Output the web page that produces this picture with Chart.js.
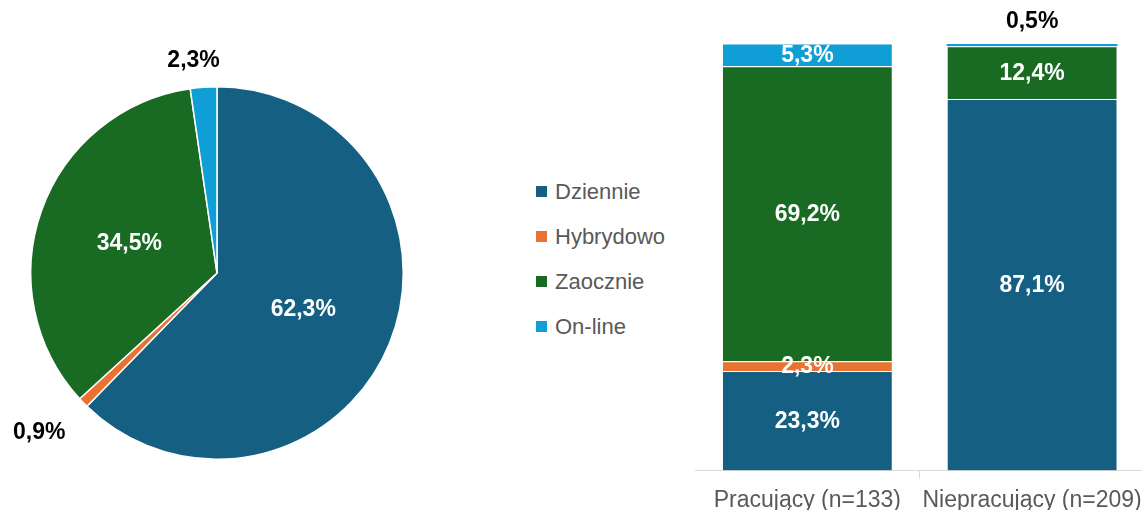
<!DOCTYPE html>
<html lang="pl">
<head>
<meta charset="utf-8">
<script src="https://cdn.jsdelivr.net/npm/chart.js@4"></script>
<style>
  body { margin: 0; background: #fff; width: 1142px; height: 510px; position: relative; overflow: hidden; font-family: "Liberation Sans", Arial, sans-serif; }
  #pie-box { position: absolute; left: 0; top: 0; width: 434px; height: 510px; }
  #bar-box { position: absolute; left: 695px; top: 0; width: 455px; height: 523px; }
  #legenda { position: absolute; left: 536px; top: 169px; }
  .item { height: 45px; display: flex; align-items: center; font-size: 22px; color: #595959; }
  .item span.sq { width: 11px; height: 11px; margin-right: 8px; display: inline-block; }
</style>
</head>
<body>
<div id="pie-box"><canvas id="grafica-pie"></canvas></div>
<div id="legenda"></div>
<div id="bar-box"><canvas id="grafica-bar"></canvas></div>
<script>
// Kategorie i kolory
const kategorie = ['Dziennie', 'Hybrydowo', 'Zaocznie', 'On-line'];
const kolory = ['#156082', '#E97132', '#196B24', '#0F9ED5'];

// Wykres kołowy - ogółem (%)
const ogolem = [62.3, 0.9, 34.5, 2.3];

// Wykres słupkowy - grupy
const grupy = ['Pracujący (n=133)', 'Niepracujący (n=209)'];
const dzienne = [23.3, 87.1];
const hybrydowo = [2.3, 0];
const zaocznie = [69.2, 12.4];
const online = [5.3, 0.5];

const fmt = v => v.toFixed(1).replace('.', ',') + '%';
const fontEtykiety = 'bold 23px "Liberation Sans", Arial, sans-serif';

// Legenda
const leg = document.getElementById('legenda');
kategorie.forEach((k, i) => {
  const d = document.createElement('div');
  d.className = 'item';
  d.innerHTML = `<span class="sq" style="background:${kolory[i]}"></span>${k}`;
  leg.appendChild(d);
});

// Etykiety na wycinkach
const etykietyPie = {
  id: 'etykietyPie',
  afterDraw(chart) {
    const ctx = chart.ctx;
    const meta = chart.getDatasetMeta(0);
    ctx.save();
    ctx.font = fontEtykiety;
    ctx.textAlign = 'center';
    ctx.textBaseline = 'middle';
    meta.data.forEach((arc, i) => {
      const v = ogolem[i];
      const mid = (arc.startAngle + arc.endAngle) / 2;
      const c = Math.abs(Math.cos(mid));
      let d, color, dx = 0, dy = 2;
      if (v < 5) {
        // małe wycinki - etykieta na zewnątrz
        d = arc.outerRadius + 25 + 35 * c;
        color = '#000';
        dx = -8;
        dy = 2 - 10 * c;
      } else {
        d = arc.outerRadius * 0.5;
        color = '#fff';
      }
      ctx.fillStyle = color;
      ctx.fillText(fmt(v), arc.x + Math.cos(mid) * d + dx, arc.y + Math.sin(mid) * d + dy);
    });
    ctx.restore();
  }
};

new Chart(document.getElementById('grafica-pie').getContext('2d'), {
  type: 'pie',
  data: {
    labels: kategorie,
    datasets: [{ data: ogolem, backgroundColor: kolory, borderColor: '#fff', borderWidth: 1.5 }]
  },
  options: {
    responsive: true,
    maintainAspectRatio: false,
    animation: false,
    layout: { padding: { left: 30, right: 30, top: 86, bottom: 50 } },
    plugins: { legend: { display: false }, tooltip: { enabled: false } }
  },
  plugins: [etykietyPie]
});

// Etykiety na słupkach
const etykietyBar = {
  id: 'etykietyBar',
  afterDraw(chart) {
    const ctx = chart.ctx;
    ctx.save();
    ctx.font = fontEtykiety;
    ctx.textAlign = 'center';
    ctx.textBaseline = 'middle';
    chart.data.datasets.forEach((ds, di) => {
      chart.getDatasetMeta(di).data.forEach((bar, i) => {
        const v = ds.data[i];
        if (!v) return;
        if (v < 1) {
          ctx.fillStyle = '#000';
          ctx.fillText(fmt(v), bar.x, bar.y - 22);
        } else {
          ctx.fillStyle = '#fff';
          ctx.fillText(fmt(v), bar.x, (bar.y + bar.base) / 2 + 1);
        }
      });
    });
    ctx.restore();
  }
};

const serie = [dzienne, hybrydowo, zaocznie, online];
new Chart(document.getElementById('grafica-bar').getContext('2d'), {
  type: 'bar',
  data: {
    labels: grupy,
    datasets: serie.map((s, i) => ({
      label: kategorie[i],
      data: s,
      backgroundColor: kolory[i],
      borderColor: '#fff',
      borderWidth: c => (c.raw < 1 ? 0 : 1)
    }))
  },
  options: {
    responsive: true,
    maintainAspectRatio: false,
    animation: false,
    categoryPercentage: 1,
    barPercentage: 0.76,
    layout: { padding: { top: 44, bottom: 1, left: 0, right: 1 } },
    scales: {
      x: {
        stacked: true,
        grid: { drawOnChartArea: false, drawTicks: true, tickLength: 8, color: '#d9d9d9', offset: true },
        border: { color: '#d9d9d9' },
        ticks: {
          color: '#595959', padding: 8, maxRotation: 0, minRotation: 0, autoSkip: false,
          font: { size: 23, family: '"Liberation Sans", Arial, sans-serif' }
        }
      },
      y: { stacked: true, min: 0, max: 100, display: false }
    },
    plugins: { legend: { display: false }, tooltip: { enabled: false } }
  },
  plugins: [etykietyBar]
});
</script>
</body>
</html>
